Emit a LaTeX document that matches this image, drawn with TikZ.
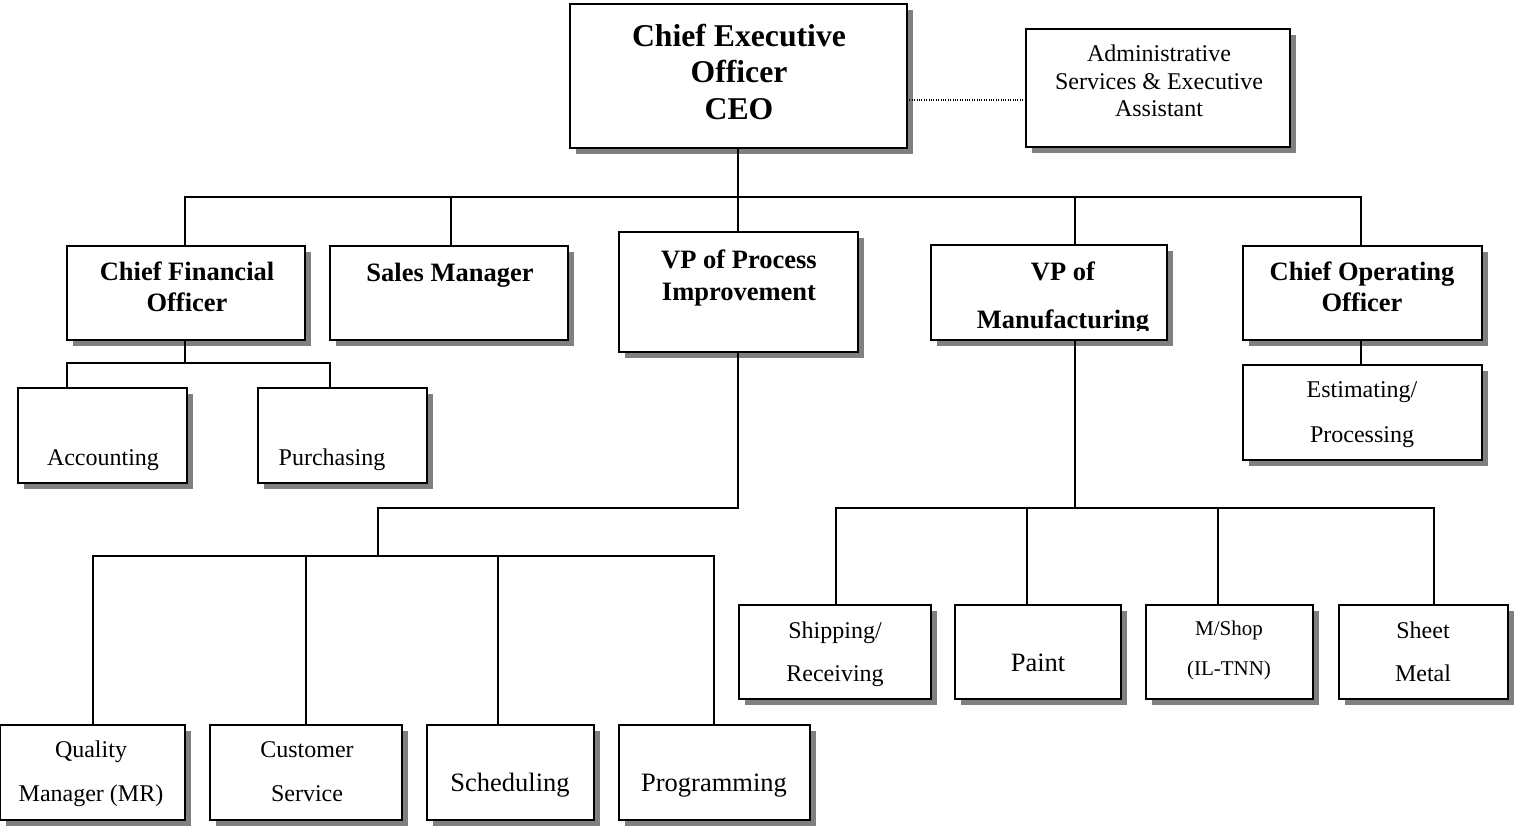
\documentclass[tikz,border=0pt]{standalone}
\usepackage{fontspec}
\setmainfont{Liberation Serif}
\begin{document}
\begin{tikzpicture}[x=1pt,y=-1pt,
  box/.style={draw=black,line width=2pt,fill=white,rectangle,inner sep=0pt,outer sep=0pt},
  shade/.style={fill=black!50},
  conn/.style={draw=black,line width=1.7pt},
  dotconn/.style={draw=black,line width=1.1pt,dash pattern=on 1pt off 1.4pt},
  txt/.style={anchor=base,inner sep=0pt,align=center},
  bigb/.style={txt,font=\fontsize{31.7}{36}\selectfont\bfseries},
  midb/.style={txt,font=\fontsize{26.5}{31}\selectfont\bfseries},
  reg/.style={txt,font=\fontsize{24}{28}\selectfont},
  regl/.style={txt,font=\fontsize{26.5}{31}\selectfont},
  regs/.style={txt,font=\fontsize{21}{25}\selectfont}]
\newcommand\orgbox[5]{%
  \pgfmathsetmacro\obW{#4-#2}\pgfmathsetmacro\obH{#5-#3}%
  \fill[shade] ({#2+6},{#3+6}) rectangle ({#4+6},{#5+6});
  \node[box,minimum width=\obW pt,minimum height=\obH pt] (#1) at ({(#2+#4)/2},{(#3+#5)/2}) {};
}
\useasboundingbox (0,0) rectangle (1518,825);
% ---------- boxes ----------
\orgbox{ceo}{570}{4}{907}{148}
\orgbox{adm}{1026}{29}{1290}{147}
\orgbox{cfo}{67}{246}{305}{340}
\orgbox{sales}{330}{246}{568}{340}
\orgbox{vpp}{619}{232}{858}{352}
\orgbox{vpm}{931}{245}{1167}{340}
\orgbox{coo}{1243}{246}{1482}{340}
\orgbox{est}{1243}{365}{1482}{460}
\orgbox{acc}{18}{388}{187}{483}
\orgbox{pur}{258}{388}{427}{483}
\orgbox{qm}{0}{725}{185}{820}
\orgbox{cs}{210}{725}{402}{820}
\orgbox{sch}{427}{725}{594}{820}
\orgbox{prog}{619}{725}{810}{820}
\orgbox{ship}{739}{605}{931}{699}
\orgbox{paint}{955}{605}{1121}{699}
\orgbox{msh}{1146}{605}{1313}{699}
\orgbox{sheet}{1339}{605}{1508}{699}
% ---------- texts ----------
\node[bigb] (ceo-1) at (739,46) {Chief Executive};
\node[bigb] (ceo-2) at (739,82) {Officer};
\node[bigb] (ceo-3) at (739,119) {CEO};
\node[reg] (adm-1) at (1159,61) {Administrative};
\node[reg] (adm-2) at (1159,89) {Services \& Executive};
\node[reg] (adm-3) at (1159,116) {Assistant};
\node[midb] (cfo-1) at (187,280) {Chief Financial};
\node[midb] (cfo-2) at (187,311) {Officer};
\node[midb] (sales-1) at (450,281) {Sales Manager};
\node[midb] (vpp-1) at (739,268) {VP of Process};
\node[midb] (vpp-2) at (739,300) {Improvement};
\node[midb] (vpm-1) at (1063,280) {VP of};
\begin{scope}
  \clip (932,246) rectangle (1166,330);
  \node[midb] (vpm-2) at (1063,328) {Manufacturing};
\end{scope}
\node[midb] (coo-1) at (1362,280) {Chief Operating};
\node[midb] (coo-2) at (1362,311) {Officer};
\node[reg] (est-1) at (1362,397) {Estimating/};
\node[reg] (est-2) at (1362,442) {Processing};
\node[reg] (acc-1) at (103,465) {Accounting};
\node[reg] (pur-1) at (332,465) {Purchasing};
\node[reg] (qm-1) at (91,757) {Quality};
\node[reg] (qm-2) at (91,801) {Manager (MR)};
\node[reg] (cs-1) at (307,757) {Customer};
\node[reg] (cs-2) at (307,801) {Service};
\node[regl] (sch-1) at (510,791) {Scheduling};
\node[regl] (prog-1) at (714,791) {Programming};
\node[reg] (ship-1) at (835,638) {Shipping/};
\node[reg] (ship-2) at (835,681) {Receiving};
\node[regl] (paint-1) at (1038,671) {Paint};
\node[regs] (msh-1) at (1229,635) {M/Shop};
\node[regs] (msh-2) at (1229,675) {(IL-TNN)};
\node[reg] (sheet-1) at (1423,638) {Sheet};
\node[reg] (sheet-2) at (1423,681) {Metal};
% ---------- junction coordinates ----------
\coordinate (t-cfo) at (185,197);
\coordinate (t-sales) at (451,197);
\coordinate (t-ceo) at (738,197);
\coordinate (t-vpm) at (1075,197);
\coordinate (t-coo) at (1361,197);
\coordinate (f-c) at (185,363);
\coordinate (f-l) at (67,363);
\coordinate (f-r) at (330,363);
\coordinate (p-1) at (738,508);
\coordinate (p-2) at (378,508);
\coordinate (p-3) at (378,556);
\coordinate (q-1) at (93,556);
\coordinate (q-2) at (306,556);
\coordinate (q-3) at (498,556);
\coordinate (q-4) at (714,556);
\coordinate (m-0) at (1075,508);
\coordinate (m-1) at (836,508);
\coordinate (m-2) at (1027,508);
\coordinate (m-3) at (1218,508);
\coordinate (m-4) at (1434,508);
\coordinate (d-1) at (907,100);
% ---------- connectors ----------
\draw[dotconn] (d-1) -- (d-1 -| adm.west);
\draw[conn] (t-ceo |- ceo.south) -- (t-ceo |- vpp.north);
\draw[conn] (t-cfo |- cfo.north) -- (t-cfo) -- (t-coo) -- (t-coo |- coo.north);
\draw[conn] (t-sales) -- (t-sales |- sales.north);
\draw[conn] (t-vpm) -- (t-vpm |- vpm.north);
\draw[conn] (f-c |- cfo.south) -- (f-c);
\draw[conn] (f-l |- acc.north) -- (f-l) -- (f-r) -- (f-r |- pur.north);
\draw[conn] (t-coo |- coo.south) -- (t-coo |- est.north);
\draw[conn] (p-1 |- vpp.south) -- (p-1) -- (p-2) -- (p-3);
\draw[conn] (q-1 |- qm.north) -- (q-1) -- (q-4) -- (q-4 |- prog.north);
\draw[conn] (q-2) -- (q-2 |- cs.north);
\draw[conn] (q-3) -- (q-3 |- sch.north);
\draw[conn] (m-0 |- vpm.south) -- (m-0);
\draw[conn] (m-1 |- ship.north) -- (m-1) -- (m-4) -- (m-4 |- sheet.north);
\draw[conn] (m-2) -- (m-2 |- paint.north);
\draw[conn] (m-3) -- (m-3 |- msh.north);
\end{tikzpicture}
\end{document}
